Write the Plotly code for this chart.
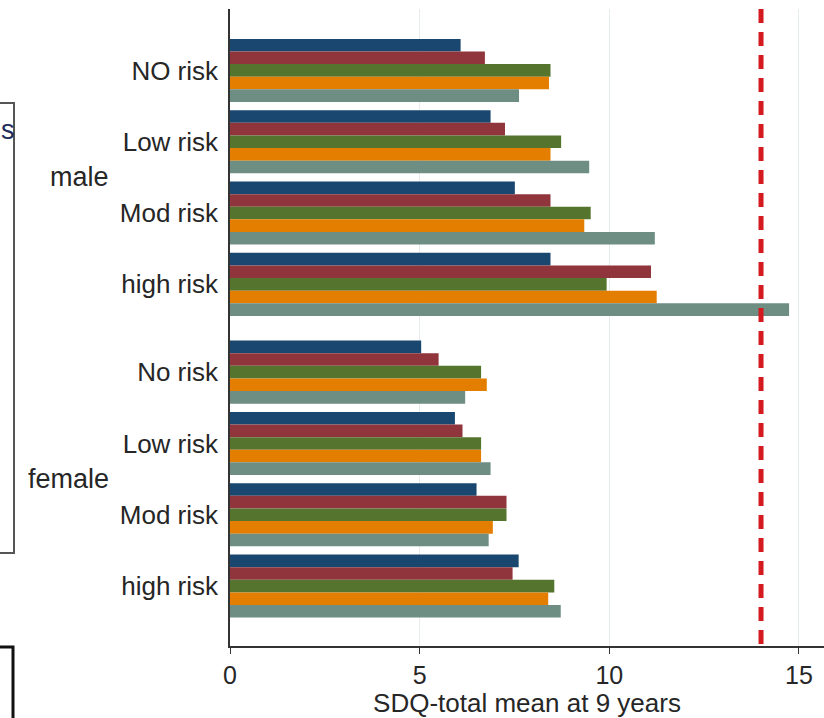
import plotly.graph_objects as go

# SDQ-total means at 9 years by sex and risk group, five series per group
genders = ["male", "female"]
risk_labels = ["NO risk", "Low risk", "Mod risk", "high risk",
               "No risk", "Low risk", "Mod risk", "high risk"]
series_names = ["Series 1", "Series 2", "Series 3", "Series 4", "Series 5"]
series_colors = ["#1a476f", "#90353b", "#55752f", "#e37e00", "#6e8e84"]

series_1 = [6.08, 6.87, 7.51, 8.45, 5.04, 5.93, 6.50, 7.61]
series_2 = [6.72, 7.25, 8.45, 11.10, 5.50, 6.13, 7.29, 7.45]
series_3 = [8.45, 8.73, 9.51, 9.93, 6.62, 6.62, 7.29, 8.55]
series_4 = [8.41, 8.45, 9.34, 11.25, 6.77, 6.62, 6.93, 8.39]
series_5 = [7.62, 9.47, 11.20, 14.74, 6.20, 6.87, 6.82, 8.72]
cutoff = 14

all_series = [series_1, series_2, series_3, series_4, series_5]

# Group positions on the y axis: four risk groups per sex, extra gap between sexes
sex_gap = 0.23
groups_per_sex = 4
positions = [i + (sex_gap if i >= groups_per_sex else 0) for i in range(len(risk_labels))]

FONT = "Liberation Sans, Arial, sans-serif"
TEXT = "#262626"

fig = go.Figure()
for name, vals, col in zip(series_names, all_series, series_colors):
    fig.add_trace(go.Bar(
        y=positions, x=vals, orientation="h", name=name,
        marker=dict(color=col, line=dict(width=0)),
        showlegend=False,
    ))

plot_left, plot_top, plot_bottom, W, H = 230, 9, 646, 824, 718
plot_w = W - plot_left
plot_h = plot_bottom - plot_top


def px_x(p):
    return (p - plot_left) / plot_w


def px_y(p):
    return (plot_bottom - p) / plot_h


# reference line at the cutoff
fig.add_shape(type="line", xref="x", yref="paper", x0=cutoff, x1=cutoff, y0=1, y1=0,
              line=dict(color="#d41a1f", width=5, dash="14px,9px"), layer="above")

# sex labels centred on their block of groups
for k, g in enumerate(genders):
    block = positions[k * groups_per_sex:(k + 1) * groups_per_sex]
    fig.add_annotation(text=g, xref="paper", yref="y", x=px_x(111), y=sum(block) / len(block),
                       xanchor="right", yanchor="middle", showarrow=False,
                       font=dict(family=FONT, size=27, color=TEXT))

# legend boxes at the left edge
fig.add_shape(type="rect", xref="paper", yref="paper",
              x0=px_x(-20), x1=px_x(14), y0=px_y(103), y1=px_y(553),
              line=dict(color="#555555", width=2), fillcolor="rgba(0,0,0,0)")
fig.add_annotation(text="s", xref="paper", yref="paper", x=px_x(0), y=px_y(130),
                   xanchor="left", yanchor="middle", showarrow=False, borderpad=0,
                   font=dict(family=FONT, size=27, color="#1f2d5c"))
fig.add_shape(type="rect", xref="paper", yref="paper",
              x0=px_x(-20), x1=px_x(13), y0=px_y(647), y1=px_y(740),
              line=dict(color="#111111", width=3), fillcolor="rgba(0,0,0,0)")

y_top = positions[0] - 0.861
y_bot = positions[-1] + 0.84

fig.update_layout(
    width=W, height=H,
    margin=dict(l=plot_left, r=0, t=plot_top, b=H - plot_bottom),
    paper_bgcolor="white", plot_bgcolor="white",
    barmode="group", bargap=0.116, bargroupgap=0,
    font=dict(family=FONT, size=25, color=TEXT),
    xaxis=dict(
        range=[0, plot_w / 37.93], tickvals=[0, 5, 10, 15],
        showgrid=True, gridcolor="#e6eced", gridwidth=1, zeroline=False,
        showline=True, linecolor="#333333", linewidth=1.5,
        ticks="outside", ticklen=6, tickcolor="#333333", tickwidth=1.2,
        tickfont=dict(family=FONT, size=25, color=TEXT),
        title=dict(text="SDQ-total mean at 9 years", standoff=0,
                   font=dict(family=FONT, size=26, color=TEXT)),
    ),
    yaxis=dict(
        range=[y_bot, y_top], tickvals=positions, ticktext=risk_labels,
        showgrid=False, zeroline=False,
        showline=True, linecolor="#333333", linewidth=1.5,
        ticks="", ticklabelstandoff=5,
        tickfont=dict(family=FONT, size=26, color=TEXT),
    ),
)

fig.write_html("out.html")
